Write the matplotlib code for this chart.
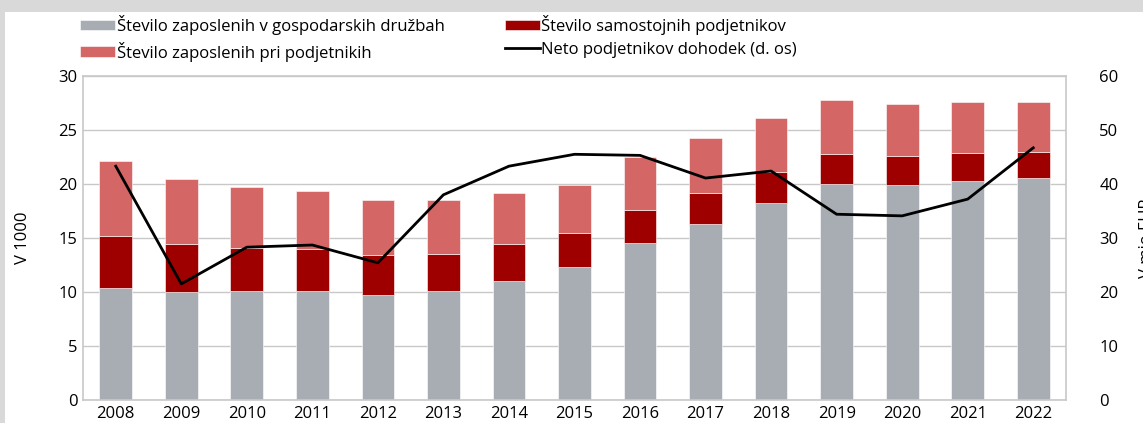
import matplotlib.pyplot as plt
import matplotlib.patches as mpatches
import numpy as np

plt.rcParams['font.family'] = ['Open Sans', 'DejaVu Sans']

years = ['2008', '2009', '2010', '2011', '2012', '2013', '2014', '2015',
         '2016', '2017', '2018', '2019', '2020', '2021', '2022']
# thousands of employees
druzbe = [10.4, 10.0, 10.05, 10.05, 9.75, 10.05, 11.05, 12.35,
          14.5, 16.3, 18.2, 20.0, 19.95, 20.25, 20.55]
samostojni = [4.8, 4.4, 4.05, 3.95, 3.65, 3.5, 3.35, 3.15,
              3.05, 2.9, 2.9, 2.75, 2.6, 2.6, 2.45]
pri_podjetnikih = [6.9, 6.1, 5.6, 5.35, 5.15, 4.95, 4.8, 4.4,
                   4.95, 5.05, 5.0, 5.05, 4.9, 4.7, 4.55]
# mio EUR, right axis
dohodek = [43.3, 21.5, 28.3, 28.7, 25.4, 38.0, 43.3, 45.5,
           45.3, 41.1, 42.4, 34.4, 34.1, 37.2, 46.7]

c_gray = '#a7adb3'
c_dark = '#9e0000'
c_light = '#d46666'

fig = plt.figure(figsize=(11.43, 4.23), dpi=100, facecolor='#d9d9d9')
# white panel on grey background
fig.patches.append(mpatches.Rectangle((5 / 1143, 0), 1, 1 - 12 / 423,
                                      transform=fig.transFigure,
                                      facecolor='white', edgecolor='none', zorder=-10))

ax = fig.add_axes([83 / 1143, 1 - 400 / 423, 983 / 1143, 324 / 423])
ax.patch.set_alpha(0)
x = np.arange(len(years))
b1 = ax.bar(x, druzbe, 0.5, color=c_gray, edgecolor='white', linewidth=0.4, zorder=2)
bottom2 = np.array(druzbe)
b2 = ax.bar(x, samostojni, 0.5, bottom=bottom2, color=c_dark, edgecolor='white',
            linewidth=0.4, zorder=2)
bottom3 = bottom2 + np.array(samostojni)
b3 = ax.bar(x, pri_podjetnikih, 0.5, bottom=bottom3, color=c_light, edgecolor='white',
            linewidth=0.4, zorder=2)

ax.set_xlim(-0.5, len(years) - 0.5)
ax.set_ylim(0, 30)
ax.set_yticks(range(0, 31, 5))
ax.set_xticks(x)
ax.set_xticklabels(years)
ax.grid(axis='y', color='#c8c8c8', linewidth=1, zorder=0)
ax.set_axisbelow(True)
for s in ax.spines.values():
    s.set_color('#c8c8c8')
    s.set_linewidth(1.2)
ax.tick_params(length=0, labelsize=12, pad=4)
ax.set_ylabel('V 1000', fontsize=12, labelpad=20)

ax2 = ax.twinx()
ln, = ax2.plot(x, dohodek, color='black', linewidth=2, zorder=3)
ax2.set_ylim(0, 60)
ax2.set_yticks(range(0, 61, 10))
ax2.tick_params(length=0, labelsize=12, pad=24)
for s in ax2.spines.values():
    s.set_visible(False)
ax2.set_ylabel('V mio EUR', fontsize=12, labelpad=15)

leg = fig.legend([b1, b3, b2, ln],
                 ['Število zaposlenih v gospodarskih družbah',
                  'Število zaposlenih pri podjetnikih',
                  'Število samostojnih podjetnikov',
                  'Neto podjetnikov dohodek (d. os)'],
                 ncol=2, loc='upper left', bbox_to_anchor=(65 / 1143, 1.0),
                 frameon=False, fontsize=12, handlelength=2.1, handleheight=0.6,
                 handletextpad=0.1, columnspacing=3.6, labelspacing=0.4)

fig.savefig('out.png', dpi=100, facecolor=fig.get_facecolor())
